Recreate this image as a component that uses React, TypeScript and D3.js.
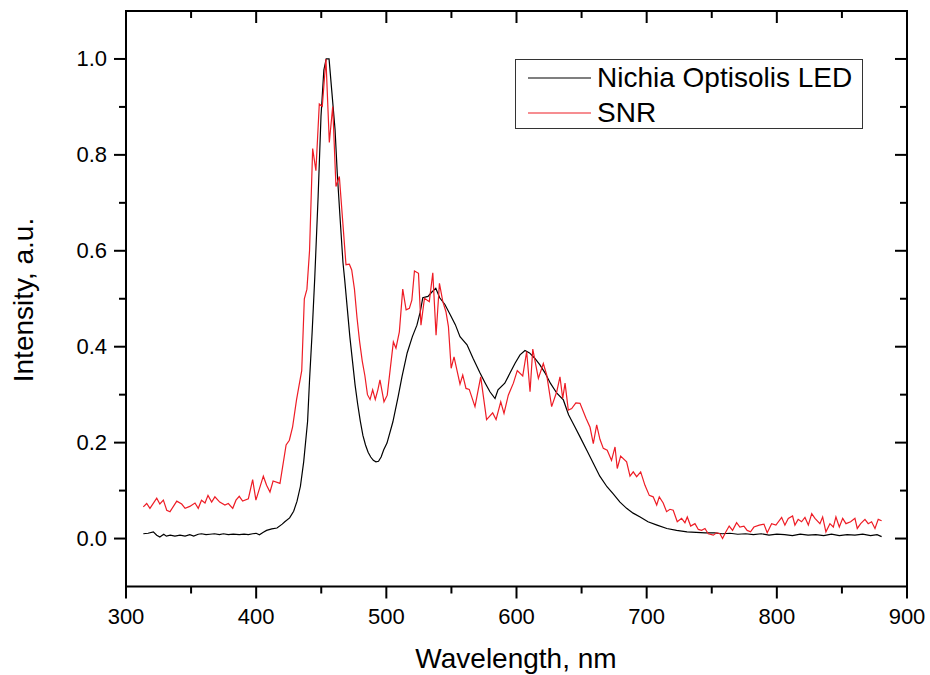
import React from "react";
import * as d3 from "d3";

// Nichia Optisolis LED spectrum (black)
const ledWavelength = [
  313.3, 317, 321, 323.6, 326, 329, 331, 334, 337.6, 341.5, 345.4, 349, 352, 355.5, 358, 361.5,
  364.5, 368, 371.8, 374.8, 378.6, 382.4, 387, 390.7, 394, 397.3, 400, 402.5, 405.5, 408, 412,
  416, 420, 422, 425.7, 428.8, 431.4, 434, 436.5, 439.5, 441, 443, 445, 447.6, 449.8, 452, 453.8,
  456, 458, 460.6, 462.3, 464.4, 466.7, 468, 470, 472, 474, 476, 478, 480, 482, 484, 486, 488,
  490, 492, 494, 496, 498, 500.5, 505, 509, 512, 516, 520, 523.5, 526, 528, 532, 535, 538, 541,
  545, 549, 553, 556.6, 562, 566.6, 572, 576, 579.6, 583.5, 585.8, 591, 595, 599, 602.7, 606.5,
  610, 614, 618, 622, 626, 631, 636, 640, 645, 649, 654, 659, 664, 669.5, 674, 679.5, 684.6,
  689.6, 695, 701, 708, 715.5, 723, 731, 738, 745, 752, 758, 764, 770, 776, 782, 788, 794, 800,
  806, 812, 818, 824, 830, 836, 842, 848, 854, 860, 866, 872, 877, 880.5,
];
const ledIntensity = [
  0.01, 0.011, 0.014, 0.007, 0.003, 0.009, 0.005, 0.007, 0.005, 0.007, 0.005, 0.008, 0.005,
  0.009, 0.01, 0.008, 0.009, 0.01, 0.008, 0.01, 0.008, 0.009, 0.008, 0.009, 0.008, 0.01, 0.011,
  0.008, 0.013, 0.017, 0.02, 0.022, 0.03, 0.035, 0.043, 0.057, 0.078, 0.109, 0.16, 0.244, 0.33,
  0.43, 0.543, 0.713, 0.88, 0.977, 1.0, 1.0, 0.936, 0.853, 0.762, 0.671, 0.575, 0.54, 0.48, 0.42,
  0.37, 0.32, 0.28, 0.245, 0.215, 0.195, 0.18, 0.17, 0.163, 0.16, 0.161, 0.17, 0.185, 0.199,
  0.243, 0.295, 0.337, 0.387, 0.421, 0.445, 0.472, 0.502, 0.505, 0.514, 0.522, 0.502, 0.488,
  0.467, 0.446, 0.421, 0.404, 0.376, 0.345, 0.324, 0.306, 0.292, 0.31, 0.324, 0.345, 0.366,
  0.383, 0.392, 0.387, 0.376, 0.362, 0.345, 0.324, 0.303, 0.289, 0.258, 0.232, 0.211, 0.184,
  0.157, 0.13, 0.108, 0.094, 0.076, 0.063, 0.053, 0.045, 0.035, 0.028, 0.021, 0.017, 0.014, 0.013,
  0.012, 0.012, 0.01, 0.011, 0.009, 0.01, 0.008, 0.01, 0.007, 0.009, 0.008, 0.006, 0.009, 0.007,
  0.008, 0.006, 0.009, 0.006, 0.008, 0.007, 0.009, 0.006, 0.008, 0.004,
];

// SNR spectrum (red)
const snrWavelength = [
  313.3, 315.9, 318.4, 323.6, 326, 328.7, 331.3, 333.8, 339, 342.8, 345.4, 349, 353, 355.5, 358,
  360.7, 363, 365.8, 368.3, 372, 376, 378.6, 382, 384.5, 387, 389.6, 394, 397.3, 399.8, 405.5, 408,
  410.6, 413, 418.3, 423, 425.5, 428, 431, 433, 435, 437, 439, 441, 443.4, 445.9, 448.5, 450.8,
  453.6, 456.2, 458.8, 461.3, 463.9, 469, 471.6, 473.4, 475.5, 477.5, 479.5, 481.5, 483.5, 485.5,
  487.5, 489.5, 491.5, 493.5, 495.1, 498.2, 500.7, 505.4, 507.4, 510, 512.6, 515.2, 517.7, 519.6,
  521.6, 524.7, 526.6, 529.3, 533, 535.7, 538.2, 540.8, 543.4, 545.8, 547.7, 549.8, 552, 556.6,
  558.7, 561.2, 563.7, 568.1, 572.5, 577, 581.7, 584.3, 587.9, 590.4, 593.7, 597.6, 600.6, 604.8,
  607.8, 610.4, 612.5, 616.8, 620.6, 623.2, 627, 630.9, 633.4, 635.5, 637.3, 639.8, 642.4, 645.6,
  648.8, 653.4, 656.5, 659, 661.6, 664.1, 666.7, 669.7, 673, 675.7, 677.4, 680, 684.6, 687.2,
  689.7, 692.3, 695.4, 698.7, 702, 705, 707.7, 709.7, 712.7, 715.3, 717.9, 720.4, 723.5, 726.8,
  729.4, 731.2, 733.8, 737.1, 739.7, 742.2, 744.8, 747.3, 751.2, 753.7, 756.3, 758.3, 760.9,
  763.4, 766, 769.1, 771.6, 774.7, 777.2, 779.8, 782.4, 786.5, 790.1, 792.6, 796, 799.3, 803.7,
  806.2, 808.8, 812.1, 813.9, 816.4, 819, 821.6, 824.2, 826.8, 829.3, 833.1, 835.2, 837.7, 840.8,
  843.4, 845.4, 848, 850.6, 853.1, 856.7, 860, 861.8, 864.4, 867.7, 870.2, 872.8, 875.4, 877.9,
  880.5,
];
const snrIntensity = [
  0.066, 0.073, 0.063, 0.084, 0.072, 0.08, 0.059, 0.056, 0.078, 0.072, 0.063, 0.067, 0.074, 0.063,
  0.08, 0.074, 0.09, 0.076, 0.087, 0.076, 0.07, 0.073, 0.063, 0.08, 0.088, 0.078, 0.083, 0.123,
  0.08, 0.13, 0.111, 0.097, 0.12, 0.115, 0.195, 0.205, 0.233, 0.289, 0.32, 0.35, 0.5, 0.52, 0.6,
  0.813, 0.767, 0.906, 0.901, 1.0, 0.826, 0.901, 0.734, 0.755, 0.571, 0.572, 0.56, 0.52, 0.46,
  0.41, 0.37, 0.34, 0.3, 0.29, 0.31, 0.29, 0.31, 0.331, 0.285, 0.299, 0.41, 0.397, 0.431, 0.52,
  0.477, 0.48, 0.497, 0.558, 0.553, 0.445, 0.501, 0.494, 0.554, 0.424, 0.532, 0.494, 0.473, 0.442,
  0.355, 0.379, 0.322, 0.341, 0.313, 0.311, 0.275, 0.337, 0.248, 0.262, 0.248, 0.285, 0.261,
  0.299, 0.324, 0.35, 0.339, 0.39, 0.306, 0.395, 0.334, 0.365, 0.341, 0.275, 0.306, 0.337, 0.292,
  0.324, 0.268, 0.271, 0.283, 0.282, 0.251, 0.232, 0.198, 0.237, 0.207, 0.188, 0.184, 0.163,
  0.191, 0.146, 0.172, 0.16, 0.13, 0.139, 0.129, 0.139, 0.111, 0.09, 0.087, 0.07, 0.087, 0.074,
  0.056, 0.061, 0.059, 0.035, 0.042, 0.033, 0.045, 0.026, 0.031, 0.019, 0.017, 0.021, 0.01, 0.007,
  0.012, 0.01, 0.0, 0.014, 0.026, 0.017, 0.033, 0.024, 0.026, 0.017, 0.014, 0.024, 0.028, 0.03,
  0.012, 0.031, 0.028, 0.044, 0.028, 0.042, 0.047, 0.028, 0.04, 0.035, 0.044, 0.028, 0.052, 0.042,
  0.031, 0.045, 0.014, 0.031, 0.024, 0.045, 0.024, 0.042, 0.031, 0.035, 0.042, 0.021, 0.031, 0.04,
  0.031, 0.035, 0.021, 0.04, 0.037,
];

const xMajorTicks = [300, 400, 500, 600, 700, 800, 900];
const xMinorTicks = [350, 450, 550, 650, 750, 850];
const yMajorTicks = [0, 0.2, 0.4, 0.6, 0.8, 1.0];
const yMinorTicks = [0.1, 0.3, 0.5, 0.7, 0.9];

const legendNames = ["Nichia Optisolis LED", "SNR"];
const colors = ["#000000", "#ee1c25"];

const font = "'Liberation Sans', Arial, Helvetica, sans-serif";

export default function App() {
  const left = 126, right = 907, top = 11, bottom = 586.5;
  const major = 12, minor = 7;

  const x = d3.scaleLinear().domain([300, 900]).range([left, right]);
  const y = d3.scaleLinear().domain([-0.1, 1.1]).range([bottom, top]);
  const fmt = d3.format(".1f");

  const line = d3
    .line<[number, number]>()
    .x((d) => x(d[0]))
    .y((d) => y(d[1]));

  const ledData = ledWavelength.map((w, i) => [w, ledIntensity[i]] as [number, number]);
  const snrData = snrWavelength.map((w, i) => [w, snrIntensity[i]] as [number, number]);

  return (
    <svg
      width={930}
      height={675}
      style={{ position: "absolute", left: 0, top: 0, background: "#fff" }}
      fontFamily={font}
    >
      <rect width={930} height={675} fill="#fff" />

      {/* data */}
      <path d={line(ledData) || ""} fill="none" stroke={colors[0]} strokeWidth={1.2} />
      <path d={line(snrData) || ""} fill="none" stroke={colors[1]} strokeWidth={1.2} />

      {/* frame */}
      <g stroke="#000" strokeWidth={2} strokeLinecap="square">
        <line x1={left} x2={right} y1={bottom} y2={bottom} />
        <line x1={left} x2={right} y1={top} y2={top} />
        <line x1={left} x2={left} y1={top} y2={bottom} />
        <line x1={right} x2={right} y1={top} y2={bottom} />
      </g>

      {/* ticks: out on bottom/left, in on top/right */}
      <g stroke="#000" strokeWidth={2}>
        {xMajorTicks.map((t) => (
          <g key={"xM" + t}>
            <line x1={x(t)} x2={x(t)} y1={bottom} y2={bottom + major} />
            <line x1={x(t)} x2={x(t)} y1={top} y2={top + major} />
          </g>
        ))}
        {xMinorTicks.map((t) => (
          <g key={"xm" + t}>
            <line x1={x(t)} x2={x(t)} y1={bottom} y2={bottom + minor} />
            <line x1={x(t)} x2={x(t)} y1={top} y2={top + minor} />
          </g>
        ))}
        {yMajorTicks.map((t) => (
          <g key={"yM" + t}>
            <line x1={left - major} x2={left} y1={y(t)} y2={y(t)} />
            <line x1={right - major} x2={right} y1={y(t)} y2={y(t)} />
          </g>
        ))}
        {yMinorTicks.map((t) => (
          <g key={"ym" + t}>
            <line x1={left - minor} x2={left} y1={y(t)} y2={y(t)} />
            <line x1={right - minor} x2={right} y1={y(t)} y2={y(t)} />
          </g>
        ))}
      </g>

      {/* tick labels */}
      <g fontSize={22} fill="#000">
        {xMajorTicks.map((t) => (
          <text key={"xl" + t} x={x(t)} y={624} textAnchor="middle">
            {t}
          </text>
        ))}
        {yMajorTicks.map((t) => (
          <text key={"yl" + t} x={107} y={y(t) + 7} textAnchor="end">
            {fmt(t)}
          </text>
        ))}
      </g>

      {/* axis titles */}
      <text x={516} y={668} fontSize={28} textAnchor="middle" fill="#000">
        Wavelength, nm
      </text>
      <text
        transform={`translate(33,300) rotate(-90)`}
        fontSize={28}
        textAnchor="middle"
        fill="#000"
      >
        Intensity, a.u.
      </text>

      {/* legend */}
      <rect x={515.5} y={59.5} width={347} height={69} fill="#fff" stroke="#333" strokeWidth={1} />
      {legendNames.map((name, i) => (
        <g key={name}>
          <line x1={528} x2={591} y1={78 + i * 35} y2={78 + i * 35} stroke={colors[i]} strokeWidth={1.2} />
          <text x={597} y={87 + i * 35} fontSize={28} fill="#000">
            {name}
          </text>
        </g>
      ))}
    </svg>
  );
}
